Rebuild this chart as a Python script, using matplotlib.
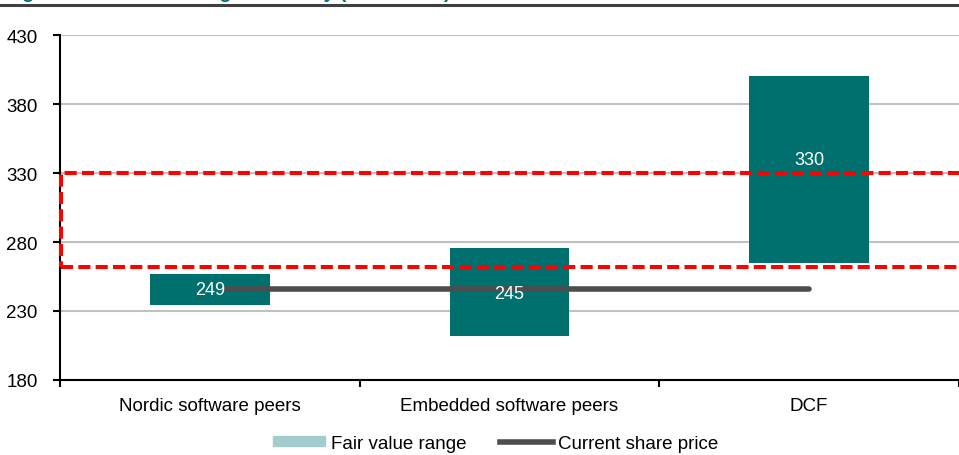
import matplotlib.pyplot as plt
from matplotlib.patches import Patch, Rectangle
from matplotlib.lines import Line2D
import numpy as np

plt.rcParams['font.family'] = ['Liberation Sans', 'DejaVu Sans']

# data
categories = ['Nordic software peers', 'Embedded software peers', 'DCF']
range_low = [234, 212, 265]
range_high = [257, 276, 400]
labels = ['249', '245', '330']
share_price = 246
target_low = 262
target_high = 330

# vertical offset of the value labels from the bar middle
label_shift = [0, -1, 7]

teal = '#00706e'
fig = plt.figure(figsize=(9.59, 4.56), dpi=100)
ax = fig.add_axes([0.0625, 0.1645, 0.9375, 0.7565])

x = np.arange(len(categories))
heights = np.array(range_high) - np.array(range_low)
ax.bar(x, heights, bottom=range_low, width=0.4, color=teal, zorder=2)

for i in range(len(categories)):
    mid = range_low[i] + heights[i] / 2 + label_shift[i]
    ax.text(x[i], mid, labels[i], ha='center', va='center', color='white',
            fontsize=13, zorder=4)

ax.plot([0.05, 2.0], [share_price, share_price], color='#4d4d4d', lw=4,
        solid_capstyle='round', zorder=3)

# red dashed target box
ax.add_patch(Rectangle((-0.495, target_low), 3.2, target_high - target_low,
                       fill=False, edgecolor='#ff0000', lw=2.9, ls=(0, (3, 1.3)),
                       zorder=5, clip_on=False))

ax.set_ylim(180, 430)
ax.set_yticks(np.arange(180, 431, 50))
ax.set_xlim(-0.5, 2.5)
ax.set_xticks([-0.5, 0.5, 1.5, 2.5])
ax.set_xticklabels([])
ax.set_xticks(x, minor=True)
ax.set_xticklabels(categories, minor=True)
ax.tick_params(axis='x', which='minor', length=0, pad=12, labelsize=13.5)
ax.tick_params(axis='x', which='major', length=5, width=1.5, direction='out')
ax.tick_params(axis='y', length=5, width=1.5, labelsize=13.5, pad=11)
ax.grid(axis='y', color='#c0c0c0', lw=1.5, zorder=0)
ax.set_axisbelow(True)
for s in ['top', 'right']:
    ax.spines[s].set_visible(False)
for s in ['left', 'bottom']:
    ax.spines[s].set_linewidth(1.5)

handles = [Patch(color='#a3cdcc', label='Fair value range'),
           Line2D([0], [0], color='#4d4d4d', lw=4, label='Current share price')]
fig.legend(handles=handles, loc='center', bbox_to_anchor=(0.517, 0.025),
           ncol=2, frameon=False, fontsize=13.5, handlelength=2.8,
           handleheight=0.45, columnspacing=1.8, handletextpad=0.3,
           borderpad=0.1)

# title cut off at the top of the picture
fig.text(0.005, 1.004, 'Figure 1: Fair value range summary (SEK/share)', color=teal,
         fontsize=14, fontweight='bold', va='baseline')
fig.add_artist(Line2D([0, 1], [0.987, 0.987], color='#404040', lw=2.2,
                      transform=fig.transFigure))

fig.savefig('out.png', dpi=100)
